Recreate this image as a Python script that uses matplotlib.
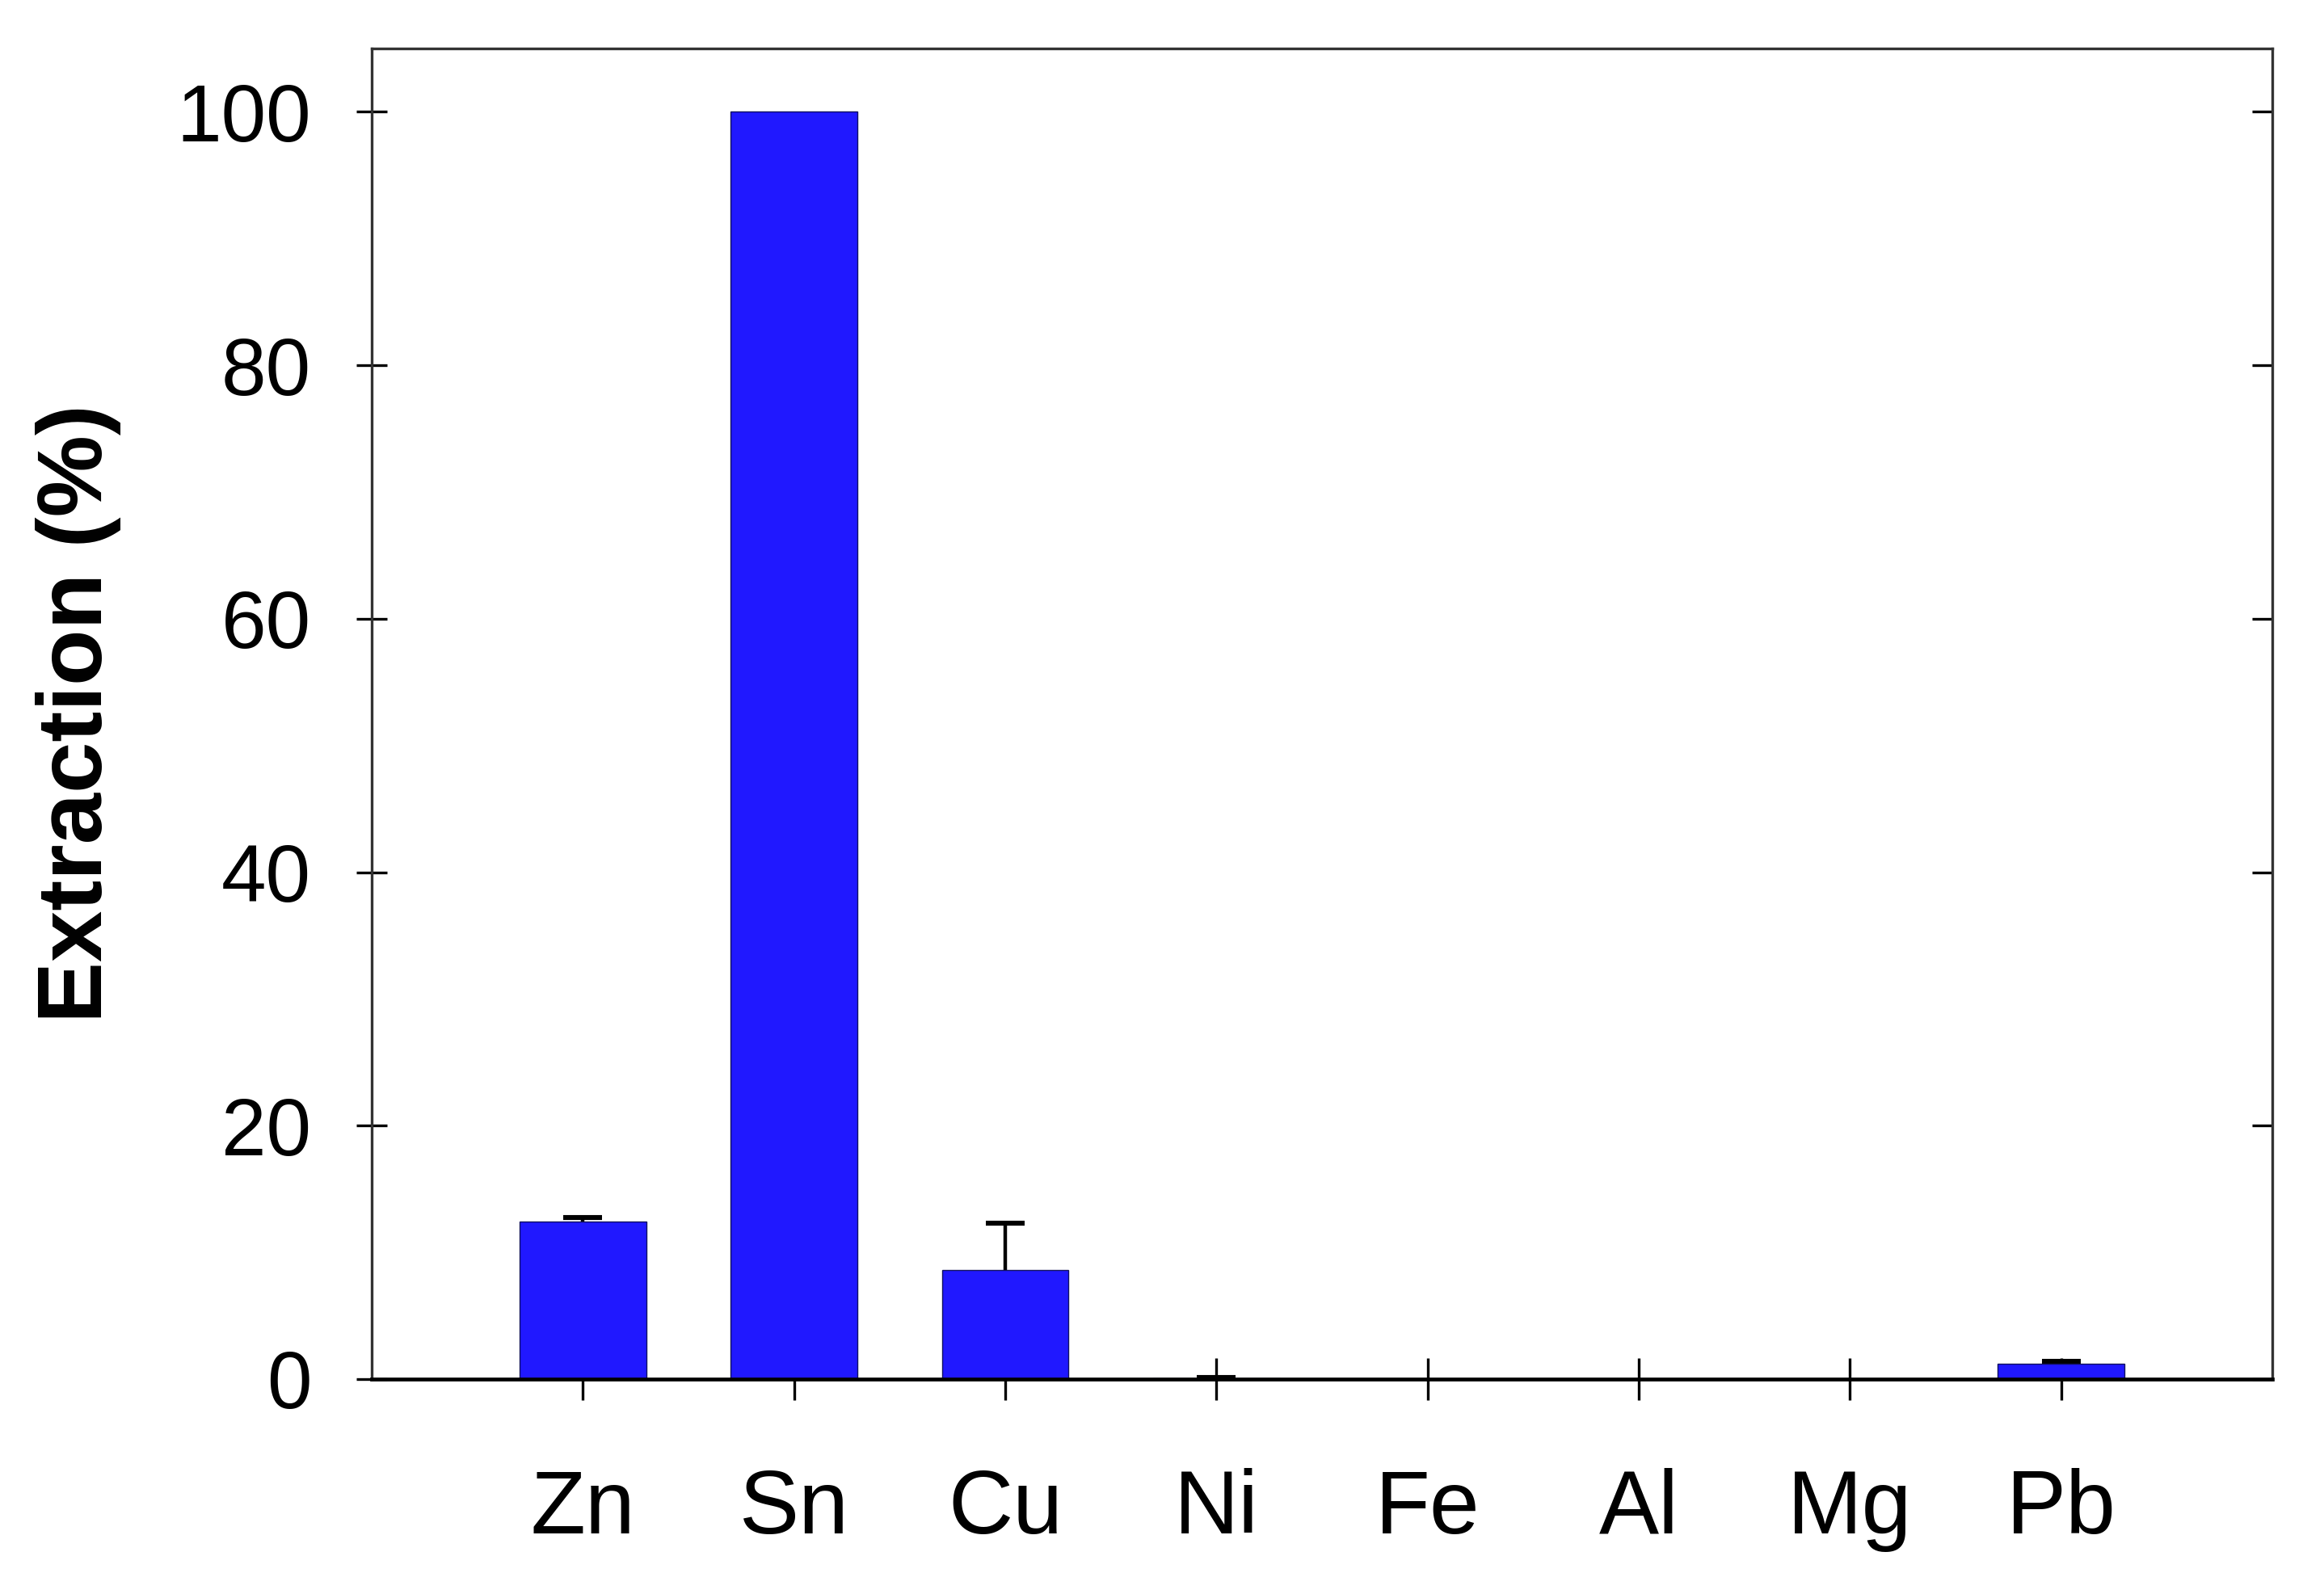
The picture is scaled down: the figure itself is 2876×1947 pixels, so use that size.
import matplotlib
matplotlib.use("Agg")
import matplotlib.pyplot as plt

metals = ["Zn", "Sn", "Cu", "Ni", "Fe", "Al", "Mg", "Pb"]
extraction = [12.4, 100.0, 8.6, 0.05, 0.0, 0.0, 0.0, 1.2]
errors = [0.35, 0.0, 3.7, 0.1, 0.0, 0.0, 0.0, 0.2]

plt.rcParams['font.family'] = ['Liberation Sans', 'DejaVu Sans']

fig = plt.figure(figsize=(14.38, 9.735), dpi=200)
ax = fig.add_axes([0.16, 0.1233, 0.8177, 0.8459])

x = list(range(len(metals)))
# only the bars that have a spread get an error bar
ex = [i for i in x if errors[i] > 0]
ax.errorbar(ex, [extraction[i] for i in ex], yerr=[errors[i] for i in ex],
            fmt='none', ecolor='black', elinewidth=1.6, capsize=8.5,
            capthick=2.2, zorder=1)
ax.bar(x, extraction, width=0.6, color='#2018ff', edgecolor='#101060',
       linewidth=0.5, zorder=2)

ax.set_xlim(-1, 8)
ax.set_ylim(0, 105)
ax.set_xticks(x)
ax.set_xticklabels(metals)
ax.set_yticks([0, 20, 40, 60, 80, 100])
ax.set_axisbelow(True)

for side in ['left', 'right', 'top']:
    ax.spines[side].set_color('#333333')
    ax.spines[side].set_linewidth(1.2)
ax.spines['bottom'].set_color('black')
ax.spines['bottom'].set_linewidth(1.7)
ax.spines['bottom'].set_zorder(3)

ax.tick_params(axis='x', direction='inout', length=19, width=1.2,
               labelsize=40, pad=30)
ax.tick_params(axis='y', direction='inout', length=14, width=1.2,
               labelsize=36, pad=20)
ax.tick_params(axis='y', right=True, labelright=False)
for t in ax.yaxis.get_major_ticks():
    t.tick2line.set_marker(matplotlib.lines.TICKLEFT)
    t.tick2line.set_markersize(9)

ax.set_ylabel('Extraction (%)', fontsize=41, fontweight='bold')
ax.yaxis.set_label_coords(-0.132, 0.5)

fig.savefig('out.png', dpi=200, facecolor='white')
